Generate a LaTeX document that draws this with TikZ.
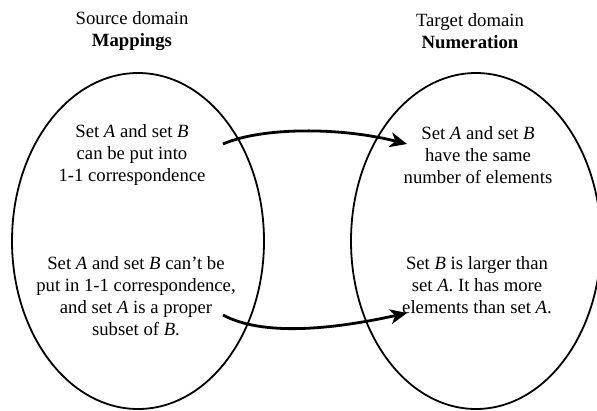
\documentclass[tikz,border=0pt]{standalone}
\usepackage{fontspec}
\setmainfont{Liberation Serif}
\usetikzlibrary{arrows.meta}
\tikzset{
  txt/.style={align=center, inner sep=0pt, font=\fontsize{18.7}{22}\selectfont},
  domainline/.style={draw=black, line width=1.8pt},
  maparrow/.style={line width=2.8pt, -{Stealth[length=17pt,width=15pt,inset=5pt]}}
}
\begin{document}
\begin{tikzpicture}[x=1pt,y=-1pt]
\useasboundingbox (0,0) rectangle (597,410);
\clip (0,0) rectangle (597,410);
\fill[white] (0,0) rectangle (597,410);
% titles
\node[txt] (srctitle) at (132,31) {Source domain\\\textbf{Mappings}};
\node[txt] (tgttitle) at (470,31) {Target domain\\\textbf{Numeration}};
% domains
\draw[domainline] (138,241) ellipse [x radius=126, y radius=168];
\node (srcdom) at (138,241) {};
\draw[domainline] (476,241) ellipse [x radius=125, y radius=168];
\node (tgtdom) at (476,241) {};
% texts
\node[txt] (s1) at (132,155) {Set \textit{A} and set \textit{B}\\can be put into\\1-1 correspondence};
\node[txt] (t1) at (478,155) {Set \textit{A} and set \textit{B}\\have the same\\number of elements};
\node[txt] (s2) at (136,296) {Set \textit{A} and set \textit{B} can’t be\\put in 1-1 correspondence,\\and set \textit{A} is a proper\\subset of \textit{B}.};
\node[txt] (t2) at (477,285) {Set \textit{B} is larger than\\set \textit{A}. It has more\\elements than set \textit{A}.};
% arrow endpoints
\coordinate (a1s) at (223,144);
\coordinate (a1e) at (407,144);
\coordinate (a2s) at (223,315);
\coordinate (a2e) at (407,313);
\draw[maparrow] (a1s) .. controls (262,127) and (340,127) .. (a1e);
\draw[maparrow] (a2s) .. controls (262,336) and (330,330) .. (a2e);
\end{tikzpicture}
\end{document}
